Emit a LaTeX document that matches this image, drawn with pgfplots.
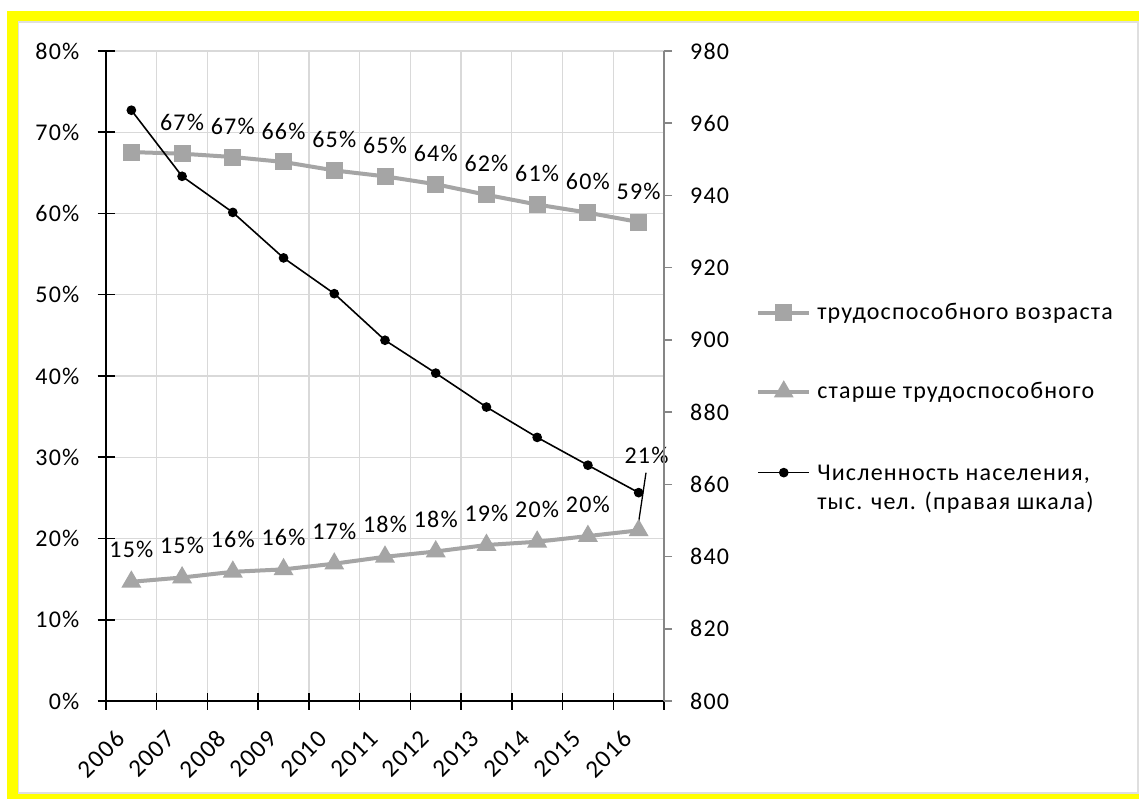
\documentclass[border=0pt]{standalone}
\usepackage{fontspec}
\setmainfont{Carlito}[LetterSpace=5]
\usepackage{pgfplots}
\pgfplotsset{compat=1.18}
\definecolor{sgray}{HTML}{A5A5A5}
\definecolor{gridc}{HTML}{D9D9D9}
\definecolor{raxis}{HTML}{868686}
\definecolor{ylw}{HTML}{FFFF00}
\begin{document}
\fontsize{24}{29}\selectfont
\begin{tikzpicture}[x=1pt,y=1pt]
\useasboundingbox (0,0) rectangle (1139,798);
\fill[white] (0,0) rectangle (1139,798);
\fill[ylw] (7,-5) rectangle (1145,787);
\fill[white] (17.5,4) rectangle (1145,776.5);
\draw[gray!25, line width=1.5pt] (18.5,5) rectangle (1138,776);
\begin{axis}[
  at={(106pt,97pt)}, anchor=south west, scale only axis,
  width=558pt, height=650pt,
  xmin=-0.5, xmax=10.5, ymin=0, ymax=80,
  axis x line*=bottom, axis y line*=left,
  axis line style={black, line width=1.5pt},
  xtick={0,1,...,10},
  xticklabels={2006,2007,2008,2009,2010,2011,2012,2013,2014,2015,2016},
  xticklabel style={font=\fontsize{25}{30}\selectfont, xshift=-17pt, yshift=-19pt, rotate=45, anchor=north east, inner sep=0pt},
  major x tick style={draw=none},
  minor xtick={-0.5,0.5,...,10.5},
  minor tick length=17pt,
  minor x tick style={black, line width=1.5pt},
  xminorgrids=true, xmajorgrids=false, ymajorgrids=true,
  ytick={0,10,...,80},
  yticklabels={0\%,10\%,20\%,30\%,40\%,50\%,60\%,70\%,80\%},
  tick align=center, major tick length=17pt,
  major y tick style={black, line width=1.5pt},
  yticklabel style={xshift=-10pt},
  major grid style={gridc, line width=1.3pt},
  minor grid style={gridc, line width=1.3pt},
  clip=false,
  /pgf/number format/assume math mode=true,
]
\addplot[sgray, line width=4pt, mark=square*, mark size=6.5pt, mark options={solid},
  nodes near coords, point meta=explicit symbolic,
  every node near coord/.append style={anchor=center, yshift=31pt, text=black}]
  coordinates {
  (0,67.56) []
  (1,67.36) [67\%]
  (2,66.95) [67\%]
  (3,66.34) [66\%]
  (4,65.30) [65\%]
  (5,64.57) [65\%]
  (6,63.60) [64\%]
  (7,62.30) [62\%]
  (8,61.10) [61\%]
  (9,60.10) [60\%]
  (10,58.95) [59\%]
  };
\addplot[sgray, line width=4pt, mark=triangle*, mark size=7.5pt, mark options={solid},
  nodes near coords, point meta=explicit symbolic,
  every node near coord/.append style={anchor=center, yshift=32pt, text=black}]
  coordinates {
  (0,14.67) [15\%]
  (1,15.20) [15\%]
  (2,15.90) [16\%]
  (3,16.20) [16\%]
  (4,16.90) [17\%]
  (5,17.75) [18\%]
  (6,18.40) [18\%]
  (7,19.20) [19\%]
  (8,19.60) [20\%]
  (9,20.30) [20\%]
  (10,21.00) []
  };
\node[black] at (axis cs:10.155,30.26) {21\%};
\draw[black, line width=1.3pt] (axis cs:10.145,28.1) -- (axis cs:9.99,21.6);
\end{axis}
\begin{axis}[
  at={(106pt,97pt)}, anchor=south west, scale only axis,
  width=558pt, height=650pt,
  xmin=-0.5, xmax=10.5, ymin=800, ymax=980,
  axis x line=none, axis y line*=right,
  axis line style={raxis, line width=1.5pt},
  ytick={800,820,...,980},
  yticklabels={800,820,840,860,880,900,920,940,960,980},
  tick align=outside, major tick length=8pt,
  tick style={raxis, line width=1.5pt},
  yticklabel style={anchor=west, xshift=10pt},
  clip=false,
  legend cell align=left,
  legend style={at={(1.165,0.616)}, anchor=north west, draw=none, fill=none,
     row sep=55pt, column sep=4pt, inner sep=0pt},
  legend image code/.code={\draw[mark repeat=2,mark phase=2,#1] plot coordinates {(0pt,0pt) (25.5pt,0pt) (51pt,0pt)};},
]
\addlegendimage{sgray, line width=4pt, mark=square*, mark size=6.5pt, mark options={solid}}
\addlegendentry{трудоспособного возраста}
\addlegendimage{sgray, line width=4pt, mark=triangle*, mark size=7.5pt, mark options={solid}}
\addlegendentry{старше трудоспособного}
\addplot[black, line width=1.6pt, mark=*, mark size=4pt] coordinates {
  (0,963.6) (1,945.3) (2,935.3) (3,922.7) (4,912.8) (5,899.9)
  (6,890.8) (7,881.4) (8,873.0) (9,865.3) (10,857.7)
  };
\addlegendentry{\raisebox{0pt}[\height][0pt]{\begin{tabular}[t]{@{}l@{}}Численность населения,\\тыс. чел. (правая шкала)\end{tabular}}}
\end{axis}
\end{tikzpicture}
\end{document}
